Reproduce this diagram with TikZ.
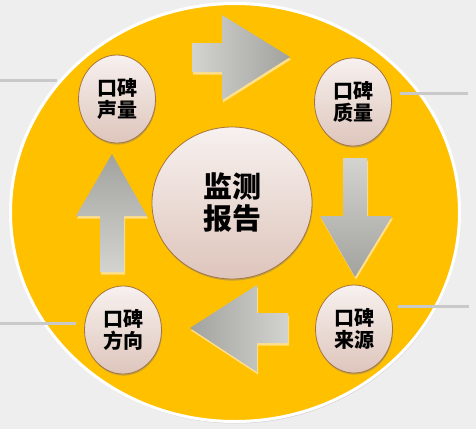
\documentclass[tikz,border=0pt]{standalone}
\usepackage{fontspec}
\newfontfamily\cjk{Noto Sans CJK SC}
\usepackage{tikz}
\usetikzlibrary{positioning}
\usetikzlibrary{shapes.geometric}
\usetikzlibrary{shadows}
\definecolor{paper}{HTML}{EEEEEE}
\definecolor{gold}{HTML}{FFC000}
\definecolor{tailgray}{HTML}{C9C9C9}
\definecolor{ballrim}{HTML}{A6743A}
\definecolor{balltop}{HTML}{F7F1EF}
\definecolor{ballbot}{HTML}{DEC5BC}
\definecolor{arrowlight}{HTML}{D3D3CF}
\definecolor{arrowdark}{HTML}{A2A29F}
\definecolor{glow}{HTML}{FFE08A}
\tikzstyle{ball}=[ellipse, draw=ballrim, line width=0.8pt, top color=balltop, bottom color=ballbot, inner sep=0pt, align=center, drop shadow={shadow xshift=0.6pt, shadow yshift=-1.6pt, opacity=0.45}]
\tikzstyle{topic}=[ball, minimum width=77pt, minimum height=88pt, font=\cjk\bfseries\fontsize{20}{22}\selectfont]
\tikzstyle{hub}=[ball, minimum width=160pt, minimum height=152pt, font=\cjk\bfseries\fontsize{29}{32}\selectfont]
\tikzstyle{tail}=[draw=tailgray, line width=3pt]
\tikzstyle{flow}=[preaction={fill=glow, transform canvas={xshift=1pt, yshift=-2.5pt}}]

\begin{document}
\begin{tikzpicture}[x=1pt, y=-1pt]

	\fill[paper] (0,0) rectangle (476,429);
	\useasboundingbox (0,0) rectangle (476,429);

	\fill[gold, draw=white, line width=3pt, drop shadow={shadow xshift=0.8pt, shadow yshift=-2pt, opacity=0.25}] (235,212.5) ellipse [x radius=224.5, y radius=209];

	% arrows round the ring
	\path[flow, left color=arrowlight, right color=arrowdark] (192,43) -- (222,43) -- (222,15) -- (290,57) -- (222,100) -- (222,72) -- (192,72) -- cycle;
	\path[flow, top color=arrowlight, bottom color=arrowdark] (343,158) -- (367,158) -- (367,216) -- (392,216) -- (355,277) -- (320,216) -- (343,216) -- cycle;
	\path[flow, right color=arrowlight, left color=arrowdark] (288,313) -- (257,313) -- (257,285) -- (190,328) -- (257,372) -- (257,343) -- (288,343) -- cycle;
	\path[flow, bottom color=arrowlight, top color=arrowdark] (100,272) -- (100,216) -- (76,216) -- (112,154) -- (147,216) -- (124,216) -- (124,272) -- cycle;

	\node (report) [hub] at (232,203) {监测\\报告};
	\node (volume) [topic] at (117,99) {口碑\\声量};
	\node (quality) [topic] at (353,102) {口碑\\质量};
	\node (source) [topic] at (354,329) {口碑\\来源};
	\node (direction) [topic] at (123,330) {口碑\\方向};

	\coordinate (vtail) at (0,80);
	\coordinate (vend) at (57,80);
	\coordinate (qtail) at (400,93);
	\coordinate (qend) at (468,93);
	\coordinate (stail) at (398,306);
	\coordinate (send) at (469,306);
	\coordinate (dtail) at (0,323);
	\coordinate (dend) at (76,323);

	\draw[tail] (vtail) -- (vend);
	\draw[tail] (qtail) -- (qend);
	\draw[tail] (stail) -- (send);
	\draw[tail] (dtail) -- (dend);
\end{tikzpicture}
\end{document}
